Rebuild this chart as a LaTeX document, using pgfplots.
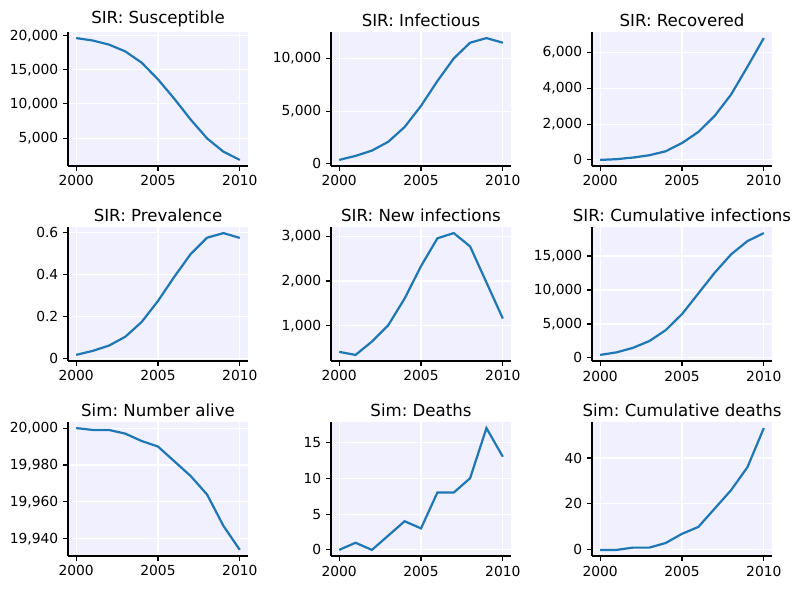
\documentclass[border=0pt]{standalone}
\usepackage{fontspec}
\setmainfont{DejaVu Sans}
\usepackage{pgfplots}
\pgfplotsset{compat=1.18}
\frenchspacing

\definecolor{bgpanel}{RGB}{240,240,255}
\definecolor{mplblue}{RGB}{31,119,180}

\pgfplotsset{
  panel/.style={
    scale only axis,
    width=1.8in, height=1.34in,
    anchor=south west,
    axis lines=left,
    axis line style={-, line width=0.8pt, black},
    axis background/.style={fill=bgpanel},
    grid=major,
    major grid style={white, line width=0.8pt},
    tick align=outside,
    major tick length=3.5pt,
    every tick/.style={black, line width=0.8pt},
    enlarge x limits=0.05,
    enlarge y limits=0.05,
    xtick={2000,2005,2010},
    scaled ticks=false,
    tick label style={font=\fontsize{10}{12}\selectfont},
    xticklabel style={/pgf/number format/.cd, 1000 sep={}, assume math mode=true},
    yticklabel style={/pgf/number format/.cd, fixed, 1000 sep={,}, assume math mode=true},
    title style={font=\fontsize{12}{14}\selectfont, yshift=-6pt},
    cycle list={{mplblue, mark=none}},
    every axis plot/.append style={line width=1.6pt},
  }
}

\begin{document}
\begin{tikzpicture}
\useasboundingbox (0,0) rectangle (8in,5.9in);

% row 1
\begin{axis}[panel, at={(0.68in,4.24in)}, title={SIR: Susceptible},
  ytick={5000,10000,15000,20000}]
\addplot coordinates {(2000,19650) (2001,19300) (2002,18700) (2003,17700) (2004,16050) (2005,13600) (2006,10750) (2007,7700) (2008,4950) (2009,3000) (2010,1800)};
\end{axis}

\begin{axis}[panel, at={(3.31in,4.24in)}, title={SIR: Infectious},
  ytick={0,5000,10000}]
\addplot coordinates {(2000,380) (2001,760) (2002,1260) (2003,2100) (2004,3500) (2005,5500) (2006,7850) (2007,10000) (2008,11490) (2009,11930) (2010,11490)};
\end{axis}

\begin{axis}[panel, at={(5.92in,4.24in)}, title={SIR: Recovered},
  ytick={0,2000,4000,6000}]
\addplot coordinates {(2000,0) (2001,40) (2002,130) (2003,260) (2004,480) (2005,940) (2006,1560) (2007,2460) (2008,3650) (2009,5200) (2010,6800)};
\end{axis}

% row 2
\begin{axis}[panel, at={(0.68in,2.29in)}, title={SIR: Prevalence},
  ytick={0,0.2,0.4,0.6}]
\addplot coordinates {(2000,0.019) (2001,0.038) (2002,0.063) (2003,0.105) (2004,0.175) (2005,0.275) (2006,0.39) (2007,0.498) (2008,0.575) (2009,0.597) (2010,0.574)};
\end{axis}

\begin{axis}[panel, at={(3.31in,2.29in)}, title={SIR: New infections},
  ytick={1000,2000,3000}]
\addplot coordinates {(2000,420) (2001,353) (2002,650) (2003,1015) (2004,1610) (2005,2330) (2006,2950) (2007,3067) (2008,2770) (2009,1967) (2010,1164)};
\end{axis}

\begin{axis}[panel, at={(5.92in,2.29in)}, title={SIR: Cumulative infections},
  ytick={0,5000,10000,15000}]
\addplot coordinates {(2000,443) (2001,820) (2002,1480) (2003,2480) (2004,4080) (2005,6450) (2006,9500) (2007,12550) (2008,15250) (2009,17200) (2010,18380)};
\end{axis}

% row 3
\begin{axis}[panel, at={(0.68in,0.34in)}, title={Sim: Number alive},
  ytick={19940,19960,19980,20000}]
\addplot coordinates {(2000,20000) (2001,19999) (2002,19999) (2003,19997) (2004,19993) (2005,19990) (2006,19982) (2007,19974) (2008,19964) (2009,19947) (2010,19934)};
\end{axis}

\begin{axis}[panel, at={(3.31in,0.34in)}, title={Sim: Deaths},
  ytick={0,5,10,15}]
\addplot coordinates {(2000,0) (2001,1) (2002,0) (2003,2) (2004,4) (2005,3) (2006,8) (2007,8) (2008,10) (2009,17) (2010,13)};
\end{axis}

\begin{axis}[panel, at={(5.92in,0.34in)}, title={Sim: Cumulative deaths},
  ytick={0,20,40}]
\addplot coordinates {(2000,0) (2001,0) (2002,1) (2003,1) (2004,3) (2005,7) (2006,10) (2007,18) (2008,26) (2009,36) (2010,53)};
\end{axis}

\end{tikzpicture}
\end{document}
